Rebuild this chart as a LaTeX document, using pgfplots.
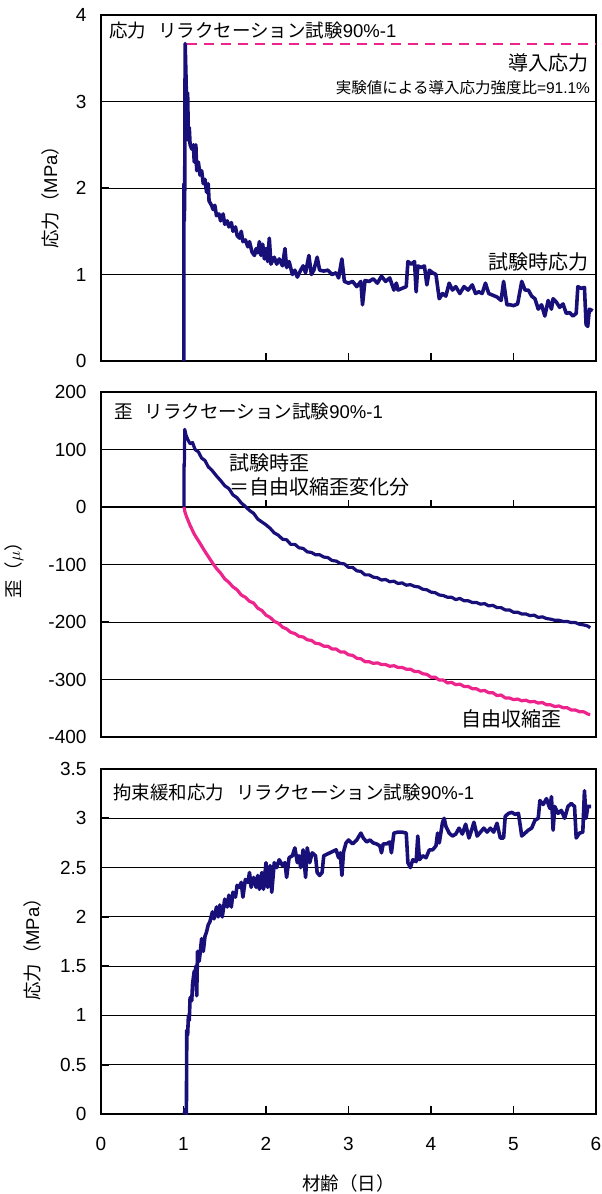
\documentclass[border=0pt]{standalone}
\usepackage{fontspec}
\setmainfont{Liberation Sans}
\newfontfamily\cjk{Noto Sans CJK JP}
\usepackage{pgfplots}
\pgfplotsset{compat=1.18}
\definecolor{navy}{RGB}{25,15,120}
\definecolor{mypink}{RGB}{236,36,140}
\newcommand\J[1]{{\cjk #1}}
\newcommand\fs[1]{\fontsize{#1bp}{#1bp}\selectfont}
\pgfplotsset{
  myax/.style={
    scale only axis, width=495bp,
    xmin=0, xmax=6,
    axis line style={line width=2.5bp},
    tick align=inside, major tick length=8bp,
    tick style={line width=1.8bp, black},
    xtick pos=left, ytick pos=left,
    ymajorgrids, grid style={line width=0.8bp, black},
    tick label style={font=\fs{19}},
    /pgf/number format/assume math mode=true,
    yticklabel style={xshift=-11bp},
    xticklabel style={yshift=-20bp},
    label style={font=\fs{18.5}},
    every axis plot/.append style={line join=round},
  }
}
\begin{document}
\begin{tikzpicture}
\path[use as bounding box] (0bp,0bp) rectangle (602bp,-1194bp);

% ---------- Panel 1 ----------
\begin{axis}[myax, at={(101bp,-361bp)}, anchor=south west, height=346bp,
  ymin=0, ymax=4, ytick={0,1,2,3,4}, xtick={1,2,3,4,5}, xticklabels={},
  ylabel={\J{応力（}MPa\J{）}},
  ylabel style={at={(axis description cs:-0.103,0.486)}, anchor=center}]
\addplot[mypink, line width=2bp, dash pattern=on 10bp off 7bp] coordinates {(1.04,3.67) (5.99,3.67)};
\addplot[navy, line width=3.6bp] coordinates {
(1.005,0) (1.005,2.05) (1.01,1.62) (1.015,2.0) (1.02,3.67) (1.03,3.3) (1.04,2.85) (1.05,3.1) (1.06,2.55) (1.07,2.7)
(1.08,2.5) (1.10,2.45) (1.12,2.5) (1.13,2.3) (1.15,2.5) (1.16,2.2) (1.18,2.3) (1.20,2.15) (1.22,2.2) (1.24,2.05)
(1.26,2.1) (1.28,1.95) (1.30,2.05) (1.31,1.85) (1.34,1.8) (1.36,1.75) (1.38,1.8) (1.40,1.68) (1.43,1.7) (1.45,1.62)
(1.48,1.7) (1.50,1.58) (1.53,1.62) (1.55,1.55) (1.58,1.6) (1.60,1.5) (1.63,1.55) (1.65,1.45) (1.68,1.42) (1.70,1.5)
(1.72,1.38) (1.75,1.4) (1.78,1.32) (1.80,1.38) (1.83,1.26) (1.86,1.22) (1.88,1.3) (1.90,1.25) (1.92,1.38) (1.94,1.22)
(1.96,1.35) (1.98,1.18) (2.00,1.3) (2.02,1.15) (2.04,1.42) (2.06,1.12) (2.10,1.2) (2.13,1.12) (2.16,1.18) (2.20,1.1)
(2.23,1.3) (2.25,1.08) (2.28,1.15) (2.32,1.0) (2.35,1.05) (2.38,0.97) (2.42,1.05) (2.45,1.1) (2.48,1.02) (2.52,1.22)
(2.55,1.0) (2.58,1.05) (2.62,1.2) (2.65,1.05) (2.70,1.04) (2.75,1.05) (2.80,1.0) (2.85,1.02) (2.88,0.96) (2.92,1.18)
(2.95,0.92) (3.00,0.9) (3.05,0.92) (3.10,0.86) (3.15,0.92) (3.17,0.65) (3.20,0.93) (3.25,0.92) (3.30,0.95) (3.35,0.9)
(3.40,0.98) (3.45,0.92) (3.50,0.96) (3.55,0.82) (3.58,0.9) (3.60,0.82) (3.65,0.84) (3.70,0.86) (3.72,1.15) (3.76,1.12)
(3.80,1.15) (3.82,0.8) (3.84,1.1) (3.88,1.08) (3.92,1.1) (3.95,0.88) (3.98,1.05) (4.02,1.02) (4.06,1.0) (4.10,0.72)
(4.14,0.78) (4.18,0.75) (4.22,0.9) (4.26,0.82) (4.30,0.86) (4.35,0.78) (4.40,0.86) (4.45,0.82) (4.50,0.88) (4.54,0.78)
(4.58,0.8) (4.62,0.78) (4.66,0.9) (4.70,0.78) (4.75,0.76) (4.80,0.74) (4.85,0.7) (4.88,0.92) (4.92,0.65) (4.96,0.65)
(5.00,0.64) (5.05,0.66) (5.10,0.92) (5.14,0.82) (5.18,0.82) (5.22,0.75) (5.26,0.72) (5.30,0.6) (5.34,0.65) (5.38,0.52)
(5.42,0.7) (5.46,0.6) (5.48,0.72) (5.52,0.68) (5.56,0.62) (5.60,0.66) (5.64,0.55) (5.68,0.56) (5.72,0.52) (5.76,0.55)
(5.78,0.86) (5.82,0.84) (5.86,0.85) (5.88,0.42) (5.90,0.4) (5.92,0.6) (5.96,0.58)};
\node[anchor=west, inner sep=0, font=\fs{18.5}] at (axis cs:0.097,3.82) {\J{応力\hspace{0.65em}リラクセーション試験}90\%-1};
\node[anchor=east, inner sep=0, font=\fs{20}] at (axis cs:5.915,3.445) {\J{導入応力}};
\node[anchor=east, inner sep=0, font=\fs{15.5}] at (axis cs:5.93,3.155) {\J{実験値による導入応力強度比}=91.1\%};
\node[anchor=east, inner sep=0, font=\fs{20}] at (axis cs:5.915,1.142) {\J{試験時応力}};
\end{axis}

% ---------- Panel 2 ----------
\begin{axis}[myax, at={(101bp,-737bp)}, anchor=south west, height=345bp,
  ymin=-400, ymax=200, ytick={-400,-300,-200,-100,0,100,200}, xtick=\empty,
  ylabel={\J{歪（}$\mu$\J{）}},
  ylabel style={at={(axis description cs:-0.176,0.496)}, anchor=center}]
\draw[line width=2.5bp] (axis cs:0,0) -- (axis cs:6,0);
\draw[line width=1.8bp] (axis cs:1,0) -- (axis cs:1,12);
\draw[line width=1.8bp] (axis cs:2,0) -- (axis cs:2,12);
\draw[line width=1.8bp] (axis cs:3,0) -- (axis cs:3,12);
\draw[line width=1.8bp] (axis cs:4,0) -- (axis cs:4,12);
\draw[line width=1.8bp] (axis cs:5,0) -- (axis cs:5,12);
\addplot[navy, line width=3.2bp] coordinates {
(1.005,0) (1.005,75) (1.01,70) (1.015,135) (1.03,125) (1.05,118) (1.08,110) (1.11,112) (1.14,100) (1.18,96)
(1.22,85) (1.26,81) (1.30,70) (1.35,63) (1.40,54) (1.45,46) (1.50,37) (1.55,32) (1.60,21) (1.65,16)
(1.70,7) (1.75,1) (1.80,-6) (1.85,-11) (1.90,-21) (1.95,-26) (2.00,-31) (2.05,-37) (2.10,-45) (2.15,-49)
(2.20,-56) (2.25,-57) (2.30,-65) (2.35,-65) (2.40,-71) (2.45,-72) (2.50,-78) (2.55,-79) (2.60,-83) (2.65,-83)
(2.70,-87) (2.75,-88) (2.80,-93) (2.85,-94) (2.90,-98) (2.95,-99) (3.00,-105) (3.05,-105) (3.10,-111) (3.15,-112)
(3.20,-118) (3.25,-118) (3.30,-122) (3.35,-123) (3.40,-127) (3.45,-126) (3.50,-130) (3.55,-129) (3.60,-133) (3.65,-132)
(3.70,-136) (3.75,-135) (3.80,-138) (3.85,-139) (3.90,-143) (3.95,-144) (4.00,-148) (4.05,-149) (4.10,-153) (4.15,-154)
(4.20,-157) (4.25,-157) (4.30,-161) (4.35,-159) (4.40,-163) (4.45,-163) (4.50,-166) (4.55,-166) (4.60,-169) (4.65,-168)
(4.70,-172) (4.75,-171) (4.80,-175) (4.85,-175) (4.90,-179) (4.95,-179) (5.00,-183) (5.05,-183) (5.10,-186) (5.15,-186)
(5.20,-189) (5.25,-188) (5.30,-192) (5.35,-191) (5.40,-194) (5.45,-195) (5.50,-197) (5.55,-197) (5.60,-199) (5.65,-199)
(5.70,-201) (5.75,-201) (5.80,-204) (5.85,-205) (5.90,-207) (5.93,-210)};
\addplot[mypink, line width=3.2bp] coordinates {
(1.005,0) (1.02,-10) (1.04,-18) (1.06,-25) (1.08,-32) (1.10,-38) (1.13,-47) (1.16,-54) (1.20,-63) (1.25,-75)
(1.30,-86) (1.35,-97) (1.40,-107) (1.45,-115) (1.50,-125) (1.55,-131) (1.60,-139) (1.65,-144) (1.70,-153) (1.75,-157)
(1.80,-164) (1.85,-167) (1.90,-176) (1.95,-180) (2.00,-188) (2.05,-192) (2.10,-199) (2.15,-202) (2.20,-209) (2.25,-212)
(2.30,-218) (2.35,-220) (2.40,-225) (2.45,-226) (2.50,-231) (2.55,-232) (2.60,-237) (2.65,-238) (2.70,-242) (2.75,-242)
(2.80,-247) (2.85,-247) (2.90,-252) (2.95,-252) (3.00,-257) (3.05,-258) (3.10,-263) (3.15,-264) (3.20,-269) (3.25,-269)
(3.30,-272) (3.35,-271) (3.40,-274) (3.45,-274) (3.50,-277) (3.55,-276) (3.60,-279) (3.65,-279) (3.70,-282) (3.75,-282)
(3.80,-286) (3.85,-286) (3.90,-290) (3.95,-291) (4.00,-296) (4.05,-296) (4.10,-301) (4.15,-301) (4.20,-306) (4.25,-305)
(4.30,-309) (4.35,-308) (4.40,-312) (4.45,-312) (4.50,-316) (4.55,-316) (4.60,-320) (4.65,-319) (4.70,-323) (4.75,-323)
(4.80,-328) (4.85,-327) (4.90,-332) (4.95,-332) (5.00,-335) (5.05,-334) (5.10,-337) (5.15,-336) (5.20,-339) (5.25,-338)
(5.30,-341) (5.35,-340) (5.40,-344) (5.45,-344) (5.50,-347) (5.55,-346) (5.60,-349) (5.65,-349) (5.70,-353) (5.75,-353)
(5.80,-356) (5.85,-356) (5.90,-360) (5.93,-361)};
\node[anchor=west, inner sep=0, font=\fs{18.5}] at (axis cs:0.158,165.7) {\J{歪\hspace{0.65em}リラクセーション試験}90\%-1};
\node[anchor=west, inner sep=0, font=\fs{20}] at (axis cs:1.55,76.5) {\J{試験時歪}};
\node[anchor=west, inner sep=0, font=\fs{20}] at (axis cs:1.55,35) {\J{＝自由収縮歪変化分}};
\node[anchor=east, inner sep=0, font=\fs{20}] at (axis cs:5.59,-369) {\J{自由収縮歪}};
\end{axis}

% ---------- Panel 3 ----------
\begin{axis}[myax, at={(101bp,-1114bp)}, anchor=south west, height=345bp,
  ymin=0, ymax=3.5, ytick={0,0.5,1,1.5,2,2.5,3,3.5},
  xtick={0,1,2,3,4,5,6},
  ylabel={\J{応力（}MPa\J{）}},
  ylabel style={at={(axis description cs:-0.139,0.49)}, anchor=center},
  xlabel={\J{材齢（日）}},
  xlabel style={at={(axis description cs:0.5,-0.2)}, anchor=center}]
\addplot[navy, line width=3.6bp] coordinates {
(1.01,0) (1.02,0.05) (1.035,0) (1.04,0.85) (1.05,0.8) (1.06,1.0) (1.07,0.95) (1.08,1.18) (1.10,1.15) (1.11,1.32)
(1.13,1.45) (1.14,1.42) (1.15,1.5) (1.16,1.2) (1.17,1.65) (1.19,1.55) (1.20,1.62) (1.22,1.78) (1.24,1.65) (1.26,1.8)
(1.28,1.85) (1.30,1.92) (1.32,1.95) (1.35,2.05) (1.37,1.98) (1.40,2.1) (1.42,2.0) (1.44,2.12) (1.47,2.0) (1.50,2.18)
(1.53,2.1) (1.55,2.22) (1.58,2.1) (1.60,2.25) (1.63,2.2) (1.65,2.32) (1.68,2.3) (1.70,2.35) (1.72,2.2) (1.75,2.38)
(1.78,2.35) (1.80,2.45) (1.82,2.3) (1.85,2.4) (1.88,2.3) (1.90,2.42) (1.92,2.28) (1.95,2.45) (1.97,2.28) (2.00,2.55)
(2.02,2.3) (2.05,2.52) (2.07,2.25) (2.10,2.55) (2.13,2.5) (2.16,2.58) (2.20,2.52) (2.23,2.55) (2.25,2.4) (2.28,2.6)
(2.32,2.62) (2.35,2.7) (2.38,2.55) (2.40,2.62) (2.42,2.5) (2.45,2.68) (2.48,2.4) (2.50,2.7) (2.53,2.55) (2.56,2.65)
(2.60,2.62) (2.62,2.45) (2.65,2.42) (2.68,2.45) (2.70,2.62) (2.75,2.64) (2.80,2.66) (2.85,2.68) (2.88,2.6) (2.90,2.65)
(2.92,2.42) (2.94,2.66) (2.97,2.75) (3.00,2.78) (3.05,2.74) (3.10,2.78) (3.15,2.85) (3.18,2.8) (3.22,2.76) (3.26,2.78)
(3.30,2.75) (3.34,2.74) (3.38,2.72) (3.40,2.65) (3.42,2.74) (3.46,2.74) (3.50,2.76) (3.52,2.65) (3.55,2.85) (3.60,2.86)
(3.65,2.86) (3.70,2.85) (3.72,2.55) (3.75,2.5) (3.78,2.58) (3.82,2.56) (3.84,2.82) (3.86,2.58) (3.90,2.62) (3.94,2.6)
(3.98,2.68) (4.02,2.68) (4.06,2.72) (4.08,2.85) (4.10,2.75) (4.14,2.96) (4.16,3.0) (4.18,2.92) (4.22,2.85) (4.26,2.82)
(4.30,2.84) (4.34,2.9) (4.38,2.84) (4.42,2.94) (4.46,2.8) (4.50,2.9) (4.52,2.96) (4.56,2.82) (4.60,2.86) (4.64,2.9)
(4.68,2.86) (4.72,2.9) (4.76,2.86) (4.80,2.95) (4.84,2.8) (4.88,2.8) (4.90,3.02) (4.94,3.05) (4.98,3.06) (5.02,3.04)
(5.06,3.05) (5.10,2.82) (5.14,2.85) (5.18,2.88) (5.22,2.9) (5.26,2.98) (5.30,3.0) (5.32,3.18) (5.36,3.14) (5.40,3.2)
(5.44,3.1) (5.46,3.22) (5.48,2.88) (5.50,3.12) (5.54,3.05) (5.58,3.08) (5.62,3.0) (5.66,3.12) (5.70,3.15) (5.74,3.12)
(5.76,2.8) (5.80,2.85) (5.84,2.86) (5.86,3.28) (5.88,3.0) (5.90,3.12) (5.94,3.12)};
\node[anchor=west, inner sep=0, font=\fs{18.5}] at (axis cs:0.145,3.26) {\J{拘束緩和応力\hspace{0.65em}リラクセーション試験}90\%-1};
\end{axis}
\end{tikzpicture}
\end{document}
